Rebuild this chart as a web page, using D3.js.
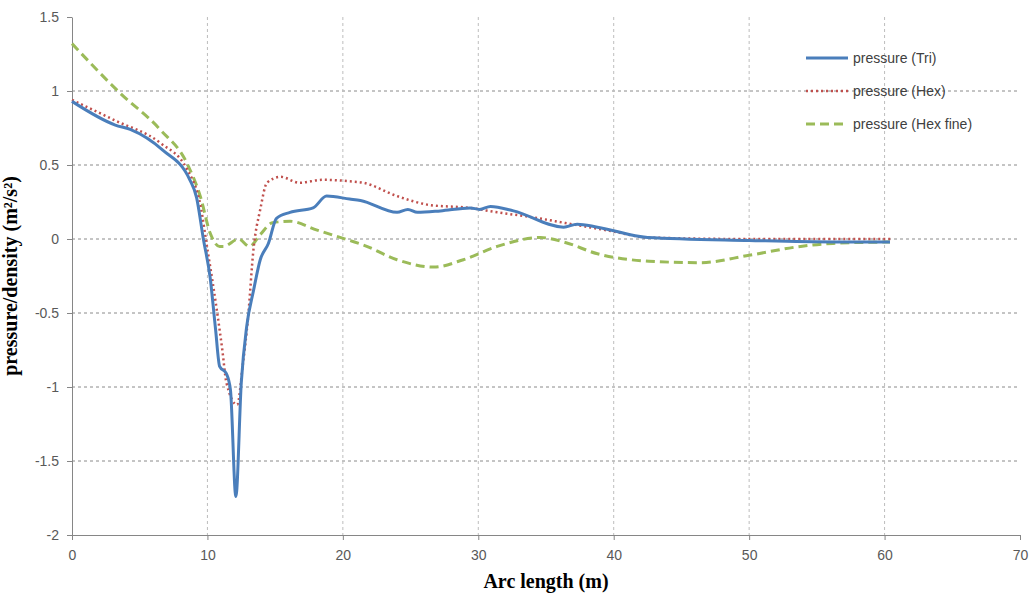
<!DOCTYPE html>
<html>
<head>
<meta charset="utf-8">
<script src="https://cdn.jsdelivr.net/npm/d3@7"></script>
<style>
  body { margin: 0; background: #fff; }
  svg { display: block; }
</style>
</head>
<body>
<div id="chart-area"></div>
<script>
// values
const triX = [0, 3.2, 4.3, 6.7, 8.7, 9.2, 9.7, 10.2, 10.6, 10.9, 11.4, 11.7, 12.1, 12.5, 12.9, 13.4, 13.9, 14.5, 15.1, 16.1, 17.8, 18.8, 20.5, 21.3, 24.0, 24.8, 25.5, 27.2, 29.4, 30.1, 30.9, 32.6, 36.3, 37.3, 38.8, 42.5, 50, 56.2, 60.4];
const triY = [0.93, 0.77, 0.74, 0.60, 0.40, 0.28, 0.0, -0.26, -0.61, -0.86, -0.91, -1.02, -1.74, -0.97, -0.59, -0.35, -0.14, -0.03, 0.14, 0.18, 0.21, 0.29, 0.27, 0.26, 0.18, 0.20, 0.18, 0.19, 0.21, 0.20, 0.22, 0.19, 0.08, 0.10, 0.08, 0.01, -0.01, -0.02, -0.02];

const hexX = [0, 3.2, 6.5, 8.5, 9.5, 10.0, 10.4, 11.1, 11.4, 12.2, 12.6, 13.0, 13.4, 13.9, 14.4, 15.4, 16.8, 18.5, 20.5, 21.5, 24.0, 26.4, 29.4, 31.4, 33.8, 36.3, 40.0, 42.5, 50, 60.5];
const hexY = [0.94, 0.80, 0.65, 0.47, 0.22, -0.07, -0.30, -0.75, -0.97, -1.12, -0.86, -0.53, -0.07, 0.20, 0.38, 0.42, 0.38, 0.40, 0.39, 0.38, 0.29, 0.23, 0.21, 0.18, 0.15, 0.11, 0.05, 0.01, 0.0, 0.0];

const fineX = [0, 3.5, 6.5, 8.5, 9.5, 10.2, 10.9, 11.2, 12.3, 13.1, 13.9, 14.8, 16.1, 18.1, 20.5, 21.5, 24.0, 26.7, 28.9, 31.4, 34.6, 36.3, 38.8, 42.6, 46.4, 50, 53.8, 56.2, 60.4];
const fineY = [1.32, 0.99, 0.74, 0.51, 0.28, 0.04, -0.05, -0.05, 0.0, -0.05, 0.03, 0.11, 0.12, 0.06, -0.01, -0.04, -0.14, -0.19, -0.14, -0.05, 0.01, -0.02, -0.10, -0.15, -0.16, -0.11, -0.05, -0.03, -0.02];

const xTicks = [0, 10, 20, 30, 40, 50, 60, 70];
const yTicks = [-2, -1.5, -1, -0.5, 0, 0.5, 1, 1.5];
const seriesNames = ["pressure (Tri)", "pressure (Hex)", "pressure (Hex fine)"];

const svgWidth = 1035;
const svgHeight = 594;
const margin = { top: 17, right: 15, bottom: 59, left: 72 };
const width = svgWidth - margin.left - margin.right;
const height = svgHeight - margin.top - margin.bottom;

const svg = d3.select("#chart-area")
    .append("svg")
    .attr("width", svgWidth)
    .attr("height", svgHeight)
    .append("g")
    .attr("transform", `translate(${margin.left},${margin.top})`);

const xScale = d3.scaleLinear().domain([0, 70]).range([0, width]);
const yScale = d3.scaleLinear().domain([-2, 1.5]).range([height, 0]);

// grid
svg.append("g")
    .selectAll("line")
    .data(yTicks.filter(d => d > -2 && d < 1.5))
    .join("line")
    .attr("x1", 0).attr("x2", width)
    .attr("y1", d => yScale(d)).attr("y2", d => yScale(d))
    .attr("stroke", "#8a8a8a")
    .attr("stroke-width", 1)
    .attr("stroke-dasharray", "3,3");

svg.append("g")
    .selectAll("line")
    .data(xTicks.filter(d => d > 0 && d < 70))
    .join("line")
    .attr("x1", d => xScale(d)).attr("x2", d => xScale(d))
    .attr("y1", 0).attr("y2", height)
    .attr("stroke", "#bdbdbd")
    .attr("stroke-width", 1)
    .attr("stroke-dasharray", "3,3");

// axes
const xAxis = svg.append("g")
    .attr("transform", `translate(0,${height})`)
    .call(d3.axisBottom(xScale).tickValues(xTicks).tickSize(5).tickSizeOuter(0).tickFormat(d3.format("d")));
const yAxis = svg.append("g")
    .call(d3.axisLeft(yScale).tickValues(yTicks).tickSize(5).tickSizeOuter(0).tickFormat(d => `${d}`));

[xAxis, yAxis].forEach(ax => {
    ax.select(".domain").attr("stroke", "#868686");
    ax.selectAll(".tick line").attr("stroke", "#868686");
    ax.selectAll("text")
        .attr("fill", "#595959")
        .style("font-family", "'Liberation Sans Narrow', 'Liberation Sans', sans-serif")
        .style("font-size", "14px");
});
xAxis.selectAll("text").attr("dy", "1.2em");
yAxis.selectAll("text").attr("x", -13);

svg.append("text")
    .attr("x", width / 2)
    .attr("y", height + 53)
    .attr("text-anchor", "middle")
    .style("font-family", "'Liberation Serif', serif")
    .style("font-weight", "bold")
    .style("font-size", "20px")
    .text("Arc length (m)");

svg.append("text")
    .attr("transform", "rotate(-90)")
    .attr("x", -height / 2)
    .attr("y", -55)
    .attr("text-anchor", "middle")
    .style("font-family", "'Liberation Serif', serif")
    .style("font-weight", "bold")
    .style("font-size", "20px")
    .text("pressure/density (m²/s²)");

// series
const series = [
    { name: seriesNames[0], xs: triX, ys: triY, color: "#4a7ebb", dash: null, w: 3 },
    { name: seriesNames[1], xs: hexX, ys: hexY, color: "#c0504d", dash: "2,3", w: 2.5 },
    { name: seriesNames[2], xs: fineX, ys: fineY, color: "#9bbb59", dash: "9,5", w: 3 }
];

const line = d3.line()
    .x(d => xScale(d[0]))
    .y(d => yScale(d[1]))
    .curve(d3.curveMonotoneX);

// draw order: green, red, blue on top
[series[2], series[1], series[0]].forEach(s => {
    svg.append("path")
        .datum(d3.zip(s.xs, s.ys))
        .attr("fill", "none")
        .attr("stroke", s.color)
        .attr("stroke-width", s.w)
        .attr("stroke-dasharray", s.dash)
        .attr("stroke-linejoin", "round")
        .attr("d", line);
});

// legend
const legend = svg.append("g").attr("transform", `translate(${806 - margin.left},${58 - margin.top})`);
series.forEach((s, i) => {
    const g = legend.append("g").attr("transform", `translate(0,${i * 33})`);
    g.append("line")
        .attr("x1", 0).attr("x2", 42)
        .attr("stroke", s.color)
        .attr("stroke-width", s.w)
        .attr("stroke-dasharray", s.dash);
    g.append("text")
        .attr("x", 47)
        .attr("dy", "0.35em")
        .attr("fill", "#404040")
        .style("font-family", "'Liberation Sans', sans-serif")
        .style("font-size", "14px")
        .text(s.name);
});
</script>
</body>
</html>
